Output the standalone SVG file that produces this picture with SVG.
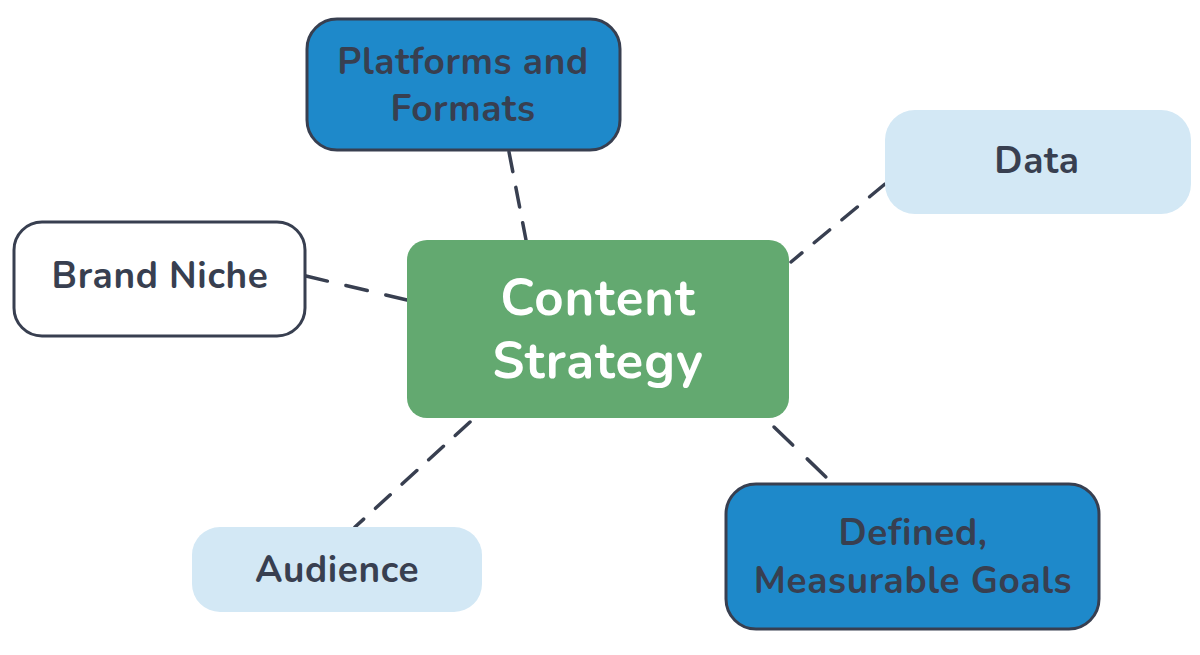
<svg xmlns="http://www.w3.org/2000/svg" width="1200" height="655" viewBox="0 0 1200 655">
<style>
.t{font-family:"Nunito","Lato","Open Sans",sans-serif;font-weight:700;fill:#383f50;text-anchor:middle;font-size:37px;letter-spacing:0.6px}
.big{font-size:51px;fill:#fff;letter-spacing:1px}
.dark{fill:#1e89ca;stroke:#383f50;stroke-width:3}
.light{fill:#d3e8f5}
.c{stroke:#383f50;stroke-width:3.5;stroke-dasharray:20 16;stroke-linecap:round;fill:none}
</style>
<rect width="1200" height="655" fill="#fff"/>
<g id="connectors">
<line class="c" x1="509" y1="152" x2="526" y2="240"/>
<line class="c" x1="885" y1="184" x2="791" y2="262"/>
<line class="c" x1="306" y1="276" x2="407" y2="300" style="stroke-dasharray:22 19"/>
<line class="c" x1="470" y1="422" x2="355" y2="527"/>
<line class="c" x1="774" y1="427" x2="826" y2="477" style="stroke-dasharray:26 20"/>
</g>
<g id="platforms">
<rect class="dark" x="307" y="19" width="313" height="131" rx="30"/>
<text class="t" x="463" y="74">Platforms and</text>
<text class="t" x="463" y="121">Formats</text>
</g>
<g id="data">
<rect class="light" x="885" y="110" width="306" height="104" rx="30"/>
<text class="t" x="1037" y="173">Data</text>
</g>
<g id="brand">
<rect x="14" y="222" width="291" height="114" rx="28" fill="#fff" stroke="#383f50" stroke-width="3"/>
<text class="t" x="160" y="288">Brand Niche</text>
</g>
<g id="content">
<rect x="407" y="240" width="382" height="178" rx="20" fill="#63a970"/>
<text class="t big" x="598" y="315">Content</text>
<text class="t big" x="598" y="378">Strategy</text>
</g>
<g id="audience">
<rect class="light" x="192" y="527" width="290" height="85" rx="28"/>
<text class="t" x="337" y="582">Audience</text>
</g>
<g id="goals">
<rect class="dark" x="726" y="484" width="373" height="145" rx="30"/>
<text class="t" x="913" y="545">Defined,</text>
<text class="t" x="913" y="593">Measurable Goals</text>
</g>
</svg>
